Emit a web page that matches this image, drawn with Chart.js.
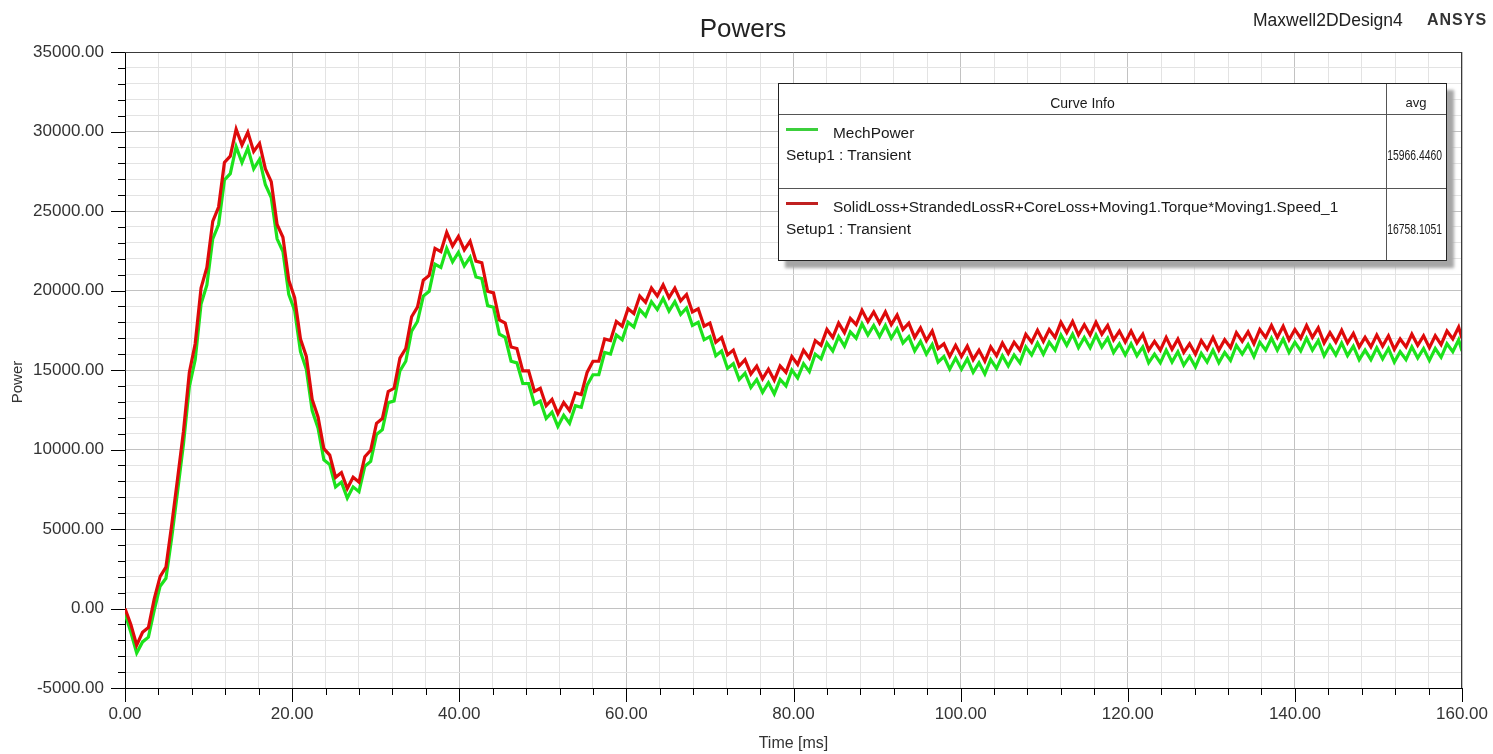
<!DOCTYPE html>
<html>
<head>
<meta charset="utf-8">
<script src="https://cdn.jsdelivr.net/npm/chart.js@4"></script>
<style>
html,body{margin:0;padding:0;background:#fff;}
#wrap{position:relative;width:1493px;height:754px;overflow:hidden;font-family:'Liberation Sans',Arial,sans-serif;}
#c{position:absolute;left:0;top:0;}
#title{position:absolute;left:643px;width:200px;top:13px;text-align:center;font-size:26px;line-height:30px;color:#222;}
#ytitle{position:absolute;left:-33px;top:373px;width:100px;text-align:center;font-size:15px;line-height:18px;color:#333;transform:rotate(-90deg);}
#design{position:absolute;left:1253px;top:9px;font-size:17.5px;line-height:22px;color:#222;}
#ansys{position:absolute;left:1427px;top:9px;font-size:16px;line-height:22px;font-weight:bold;letter-spacing:1px;color:#333;}
#legend{position:absolute;left:778px;top:83px;width:667px;height:176px;border:1px solid #222;background:#fff;box-shadow:7px 7px 3px #a6a6a6;font-size:15.4px;color:#1a1a1a;}
#legend .t{position:absolute;line-height:18px;white-space:nowrap;}
#legend .v{position:absolute;right:4px;line-height:18px;font-size:14px;white-space:nowrap;transform:scaleX(0.74);transform-origin:right center;}
#legend .hl{position:absolute;left:0;width:100%;height:1px;background:#555;}
#legend .vl{position:absolute;top:0;left:607px;width:1px;height:100%;background:#555;}
#legend .sw{position:absolute;left:7px;width:32px;height:3px;}
</style>
</head>
<body>
<div id="wrap">
<canvas id="c" width="1493" height="754"></canvas>
<div id="title">Powers</div>
<div id="ytitle">Power</div>
<div id="design">Maxwell2DDesign4</div>
<div id="ansys">ANSYS</div>
<div id="legend">
  <div class="hl" style="top:30px"></div>
  <div class="hl" style="top:104px"></div>
  <div class="vl"></div>
  <div class="t" style="left:0;width:607px;text-align:center;top:10px;font-size:14px">Curve Info</div>
  <div class="t" style="left:607px;width:60px;text-align:center;top:10px;font-size:13px">avg</div>
  <div class="sw" style="top:44px;background:#3ccf3c"></div>
  <div class="t" style="left:54px;top:40px">MechPower</div>
  <div class="t" style="left:7px;top:62px">Setup1 : Transient</div>
  <div class="v" style="top:62px">15966.4460</div>
  <div class="sw" style="top:118px;background:#c02020"></div>
  <div class="t" style="left:54px;top:114px">SolidLoss+StrandedLossR+CoreLoss+Moving1.Torque*Moving1.Speed_1</div>
  <div class="t" style="left:7px;top:136px">Setup1 : Transient</div>
  <div class="v" style="top:136px">16758.1051</div>
</div>
</div>
<script>
// time axis (ms)
const timeMs = [
0,0.7,1.4,2.1,2.8,3.5,4.2,4.9,5.6,6.3,
7,7.7,8.4,9.1,9.8,10.5,11.2,11.9,12.6,13.3,
14,14.7,15.4,16.1,16.8,17.5,18.2,18.9,19.6,20.3,
21,21.7,22.4,23.1,23.8,24.5,25.2,25.9,26.6,27.3,
28,28.7,29.4,30.1,30.8,31.5,32.2,32.9,33.6,34.3,
35,35.7,36.4,37.1,37.8,38.5,39.2,39.9,40.6,41.3,
42,42.7,43.4,44.1,44.8,45.5,46.2,46.9,47.6,48.3,
49,49.7,50.4,51.1,51.8,52.5,53.2,53.9,54.6,55.3,
56,56.7,57.4,58.1,58.8,59.5,60.2,60.9,61.6,62.3,
63,63.7,64.4,65.1,65.8,66.5,67.2,67.9,68.6,69.3,
70,70.7,71.4,72.1,72.8,73.5,74.2,74.9,75.6,76.3,
77,77.7,78.4,79.1,79.8,80.5,81.2,81.9,82.6,83.3,
84,84.7,85.4,86.1,86.8,87.5,88.2,88.9,89.6,90.3,
91,91.7,92.4,93.1,93.8,94.5,95.2,95.9,96.6,97.3,
98,98.7,99.4,100.1,100.8,101.5,102.2,102.9,103.6,104.3,
105,105.7,106.4,107.1,107.8,108.5,109.2,109.9,110.6,111.3,
112,112.7,113.4,114.1,114.8,115.5,116.2,116.9,117.6,118.3,
119,119.7,120.4,121.1,121.8,122.5,123.2,123.9,124.6,125.3,
126,126.7,127.4,128.1,128.8,129.5,130.2,130.9,131.6,132.3,
133,133.7,134.4,135.1,135.8,136.5,137.2,137.9,138.6,139.3,
140,140.7,141.4,142.1,142.8,143.5,144.2,144.9,145.6,146.3,
147,147.7,148.4,149.1,149.8,150.5,151.2,151.9,152.6,153.3,
154,154.7,155.4,156.1,156.8,157.5,158.2,158.9,159.6,160
];

// MechPower (green)
const mechPower = [
-300,-1500,-2800,-2100,-1800,-100,1400,1900,4500,7400,
10350,13950,15650,19150,20350,23250,24150,26950,27350,29050,
28050,28950,27650,28250,26650,25850,23250,22450,19750,18750,
16150,15050,12450,11350,9350,9050,7650,7950,6950,7650,
7350,8950,9250,10950,11250,12950,13050,14950,15550,17450,
18050,19650,19950,21650,21450,22650,21800,22400,21550,22100,
20850,20750,19050,18950,17250,17050,15550,15450,14150,14150,
12850,13050,11950,12350,11450,12150,11650,12750,12650,14050,
14700,14700,16100,16000,17200,16900,18000,17700,18800,18400,
19300,18800,19500,18700,19300,18500,18900,17800,18000,16900,
17100,15900,16200,15100,15400,14400,14800,13900,14400,13600,
14200,13500,14400,14000,15000,14500,15400,14900,16000,15700,
16700,16200,17100,16500,17400,17000,17900,17200,17800,17100,
17800,17000,17600,16700,17100,16200,16800,16000,16600,15500,
15850,15050,15750,15050,15700,14850,15450,14750,15650,15100,
15900,15250,15950,15450,16450,15950,16700,16000,16750,16250,
17200,16550,17250,16400,17050,16400,17200,16450,17000,16100,
16650,15950,16650,15900,16450,15450,16000,15450,16250,15500,
16150,15300,15850,15200,16050,15500,16250,15450,16100,15600,
16550,16000,16600,15850,16750,16250,17000,16250,16950,16100,
16750,16200,17000,16250,16850,15900,16550,15950,16700,15900,
16500,15650,16250,15650,16400,15700,16350,15500,16150,15650,
16450,15750,16350,15600,16350,15800,16650,16150,16900,16200
];

// SolidLoss+StrandedLossR+CoreLoss+Moving1.Torque*Moving1.Speed_1 (red)
const totalPower = [
0,-1000,-2300,-1500,-1200,600,2000,2600,5300,8200,
11150,14850,16650,20150,21450,24350,25250,28050,28450,30150,
29150,29950,28750,29250,27650,26850,24150,23350,20650,19550,
16950,15850,13150,12050,10050,9650,8250,8550,7550,8250,
7950,9550,9950,11650,11950,13650,13850,15750,16350,18350,
18950,20650,20950,22650,22450,23650,22800,23400,22550,23100,
21850,21750,19950,19850,18150,17950,16450,16350,14950,14950,
13650,13850,12750,13150,12250,12950,12450,13550,13450,14850,
15550,15550,16950,16850,18050,17750,18850,18550,19650,19250,
20150,19650,20350,19550,20150,19350,19750,18650,18850,17750,
17950,16750,17050,15950,16250,15250,15650,14750,15250,14450,
15050,14350,15250,14850,15850,15350,16250,15750,16850,16550,
17550,17050,17950,17350,18250,17850,18750,18050,18650,17950,
18650,17850,18450,17550,17950,17050,17650,16850,17450,16350,
16650,15850,16550,15850,16500,15650,16250,15550,16450,15900,
16700,16050,16750,16250,17250,16750,17500,16800,17550,17050,
18000,17350,18050,17200,17850,17200,18000,17250,17800,16900,
17450,16750,17450,16700,17250,16250,16800,16250,17050,16300,
16950,16100,16650,16000,16850,16300,17050,16250,16900,16400,
17350,16800,17400,16650,17550,17050,17800,17050,17750,16900,
17550,17000,17800,17050,17650,16700,17350,16750,17500,16700,
17300,16450,17050,16450,17200,16500,17150,16300,16950,16450,
17250,16550,17150,16400,17150,16600,17450,16950,17700,17000
];

const xRange = [0, 160];
const xStep = 4, xLabelEvery = 20;
const yRange = [-5000, 35000];
const yStep = 1000, yLabelEvery = 5000;

Chart.defaults.font.family = "'Liberation Sans', Arial, sans-serif";

const isMult = (v, m) => Math.abs(v / m - Math.round(v / m)) < 1e-6;

const frameAndTicks = {
  id: 'frameAndTicks',
  afterDraw(chart) {
    const {ctx, chartArea: a, scales: {x, y}} = chart;
    ctx.save();
    ctx.lineWidth = 1;
    ctx.strokeStyle = '#3a3a3a';
    ctx.beginPath();
    ctx.moveTo(a.left, Math.round(a.top) + 0.5); ctx.lineTo(a.right, Math.round(a.top) + 0.5);
    ctx.moveTo(Math.round(a.right) - 0.5, a.top); ctx.lineTo(Math.round(a.right) - 0.5, a.bottom);
    ctx.stroke();
    ctx.strokeStyle = '#000';
    ctx.beginPath();
    x.ticks.forEach(t => {
      const px = Math.round(x.getPixelForValue(t.value)) + 0.5;
      const len = isMult(t.value, xLabelEvery) ? 14 : 7;
      ctx.moveTo(px, a.bottom); ctx.lineTo(px, a.bottom + len);
    });
    y.ticks.forEach(t => {
      const py = Math.round(y.getPixelForValue(t.value)) + 0.5;
      const len = isMult(t.value, yLabelEvery) ? 14 : 7;
      ctx.moveTo(a.left - len, py); ctx.lineTo(a.left, py);
    });
    ctx.stroke();
    ctx.restore();
  }
};

new Chart(document.getElementById('c'), {
  type: 'line',
  data: {
    datasets: [
      {
        label: 'MechPower',
        data: timeMs.map((t, i) => ({x: t, y: mechPower[i]})),
        borderColor: 'rgb(28,226,28)',
        borderWidth: 3.2,
        pointRadius: 0,
        tension: 0,
        order: 2
      },
      {
        label: 'SolidLoss+StrandedLossR+CoreLoss+Moving1.Torque*Moving1.Speed_1',
        data: timeMs.map((t, i) => ({x: t, y: totalPower[i]})),
        borderColor: 'rgb(222,10,10)',
        borderWidth: 3.2,
        pointRadius: 0,
        tension: 0,
        order: 1
      }
    ]
  },
  options: {
    responsive: false,
    animation: false,
    devicePixelRatio: 1,
    layout: {padding: {left: 0, right: 31, top: 52, bottom: 0}},
    plugins: {
      legend: {display: false},
      tooltip: {enabled: false},
      title: {display: false}
    },
    scales: {
      x: {
        type: 'linear',
        min: xRange[0], max: xRange[1],
        afterFit: s => { s.height = 66; s.paddingLeft = 0; s.paddingRight = 0; },
        ticks: {
          stepSize: xStep, autoSkip: false, maxRotation: 0, minRotation: 0,
          padding: 16, color: '#333', font: {size: 17},
          callback: v => isMult(v, xLabelEvery) ? v.toFixed(2) : ''
        },
        grid: {
          drawTicks: false,
          color: c => (c.tick && isMult(c.tick.value, xLabelEvery)) ? '#c2c2c2' : '#e3e3e3'
        },
        border: {color: '#000', width: 1},
        title: {display: true, text: 'Time [ms]', color: '#333', font: {size: 16}, padding: {top: 0, bottom: 1}}
      },
      y: {
        type: 'linear',
        min: yRange[0], max: yRange[1],
        afterFit: s => { s.width = 125; s.paddingTop = 0; s.paddingBottom = 0; },
        ticks: {
          stepSize: yStep, autoSkip: false,
          padding: 21, color: '#333', font: {size: 17},
          callback: v => isMult(v, yLabelEvery) ? v.toFixed(2) : ''
        },
        grid: {
          drawTicks: false,
          color: c => (c.tick && isMult(c.tick.value, yLabelEvery)) ? '#c2c2c2' : '#e3e3e3'
        },
        border: {color: '#000', width: 1},
        title: {display: false}
      }
    }
  },
  plugins: [frameAndTicks]
});
</script>
</body>
</html>
